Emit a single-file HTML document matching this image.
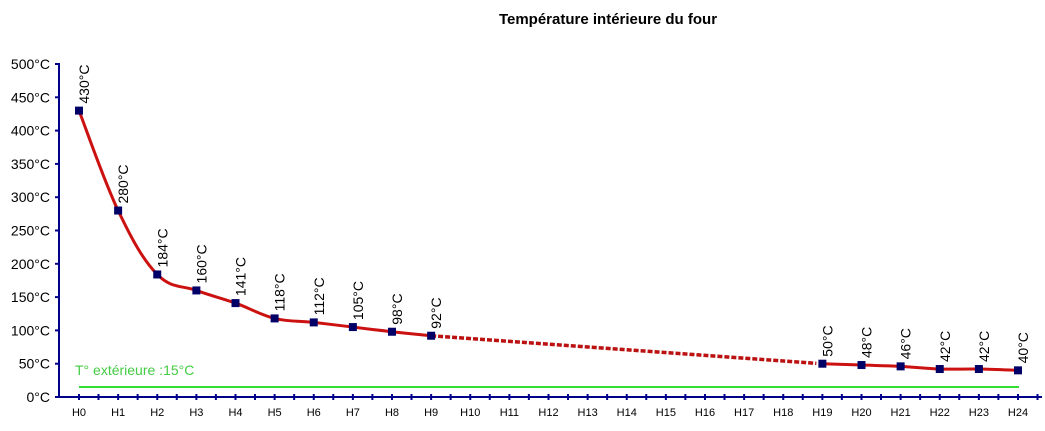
<!DOCTYPE html><html><head><style>body{margin:0;background:#fff}</style></head><body>
<svg width="1045" height="426" xmlns="http://www.w3.org/2000/svg" font-family="Liberation Sans, sans-serif">
<rect width="1045" height="426" fill="#fff"/>
<text x="608" y="24" font-size="15" font-weight="bold" text-anchor="middle">Température intérieure du four</text>
<g stroke="#00008b" stroke-width="2" fill="none">
<line x1="59" y1="63" x2="59" y2="398"/>
<line x1="58" y1="397" x2="1042" y2="397"/>
</g>
<g id="yt" stroke="#00008b" stroke-width="2"></g>
<g id="yl" font-size="14" text-anchor="end" fill="#000"></g>
<g id="xt" stroke="#00008b" stroke-width="2"></g>
<g id="xl" font-size="11" text-anchor="middle" fill="#000"></g>
<line x1="79" y1="387" x2="1019" y2="387" stroke="#33dd33" stroke-width="2"/>
<text x="75" y="375" font-size="14" fill="#44cc44">T° extérieure :15°C</text>
<path id="c1" fill="none" stroke="#cc1111" stroke-width="3"/>
<line id="dash" stroke="#bb1111" stroke-width="3.5" stroke-dasharray="5,2"/>
<path id="c2" fill="none" stroke="#cc1111" stroke-width="3"/>
<g id="pts" fill="#000066"></g>
<g id="lbl" font-size="14" fill="#000"></g>
</svg>
<script>
var X=i=>79+i*39.125,Y=v=>397-v*0.666,ns="http://www.w3.org/2000/svg";
function el(p,t,a,tx){var e=document.createElementNS(ns,t);for(var k in a)e.setAttribute(k,a[k]);if(tx)e.textContent=tx;document.getElementById(p).appendChild(e);}
for(var v=0;v<=500;v+=50){el('yt','line',{x1:55,x2:59,y1:Y(v),y2:Y(v)});el('yl','text',{x:50,y:Y(v)+5},v+'°C');}
for(var i=0;i<=24;i++){el('xt','line',{x1:X(i),x2:X(i),y1:394,y2:400});el('xt','line',{x1:X(i)+19.5,x2:X(i)+19.5,y1:394,y2:400});el('xl','text',{x:X(i),y:416},'H'+i);}
var d=[[0,430],[1,280],[2,184],[3,160],[4,141],[5,118],[6,112],[7,105],[8,98],[9,92],[19,50],[20,48],[21,46],[22,42],[23,42],[24,40]];
function path(a){var s='M'+X(a[0][0])+','+Y(a[0][1]);for(var k=1;k<a.length;k++){var p0=a[Math.max(k-2,0)],p1=a[k-1],p2=a[k],p3=a[Math.min(k+1,a.length-1)];var t=0.3;var c1x=X(p1[0])+(X(p2[0])-X(p0[0]))*t/2*1.2,c1y=Y(p1[1])+(Y(p2[1])-Y(p0[1]))*t/2*1.2,c2x=X(p2[0])-(X(p3[0])-X(p1[0]))*t/2*1.2,c2y=Y(p2[1])-(Y(p3[1])-Y(p1[1]))*t/2*1.2;s+=' C'+c1x+','+c1y+' '+c2x+','+c2y+' '+X(p2[0])+','+Y(p2[1]);}return s;}
document.getElementById('c1').setAttribute('d',path(d.slice(0,10)));
document.getElementById('c2').setAttribute('d',path(d.slice(10)));
var dl=document.getElementById('dash');dl.setAttribute('x1',X(9));dl.setAttribute('y1',Y(92));dl.setAttribute('x2',X(19)-6);dl.setAttribute('y2',Y(50.5));
d.forEach(function(p){var x=X(p[0]),y=Y(p[1]);el('pts','rect',{x:x-4,y:y-4,width:8,height:8});el('lbl','text',{x:0,y:0,transform:'translate('+(x+10)+','+(y-7)+') rotate(-90)'},p[1]+'°C');});
</script>
</body></html>
